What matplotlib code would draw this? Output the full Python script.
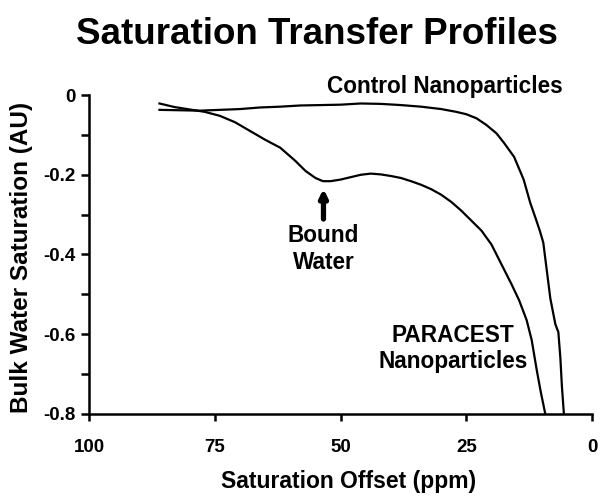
import matplotlib
matplotlib.use("Agg")
import matplotlib.pyplot as plt
from matplotlib.ticker import MultipleLocator

# Data (offset in ppm, saturation in AU)
control_x = [86, 82, 78, 74, 70, 66, 62, 58, 54, 50, 46, 42, 38, 34, 30, 27, 25, 23,
             21, 19, 17.5, 15.5, 13.6, 12.3, 11.2, 10.4, 9.7, 9.2, 8.3, 7.3, 6.7, 6.3, 6.0, 5.6]
control_y = [-0.037, -0.038, -0.039, -0.037, -0.035, -0.031, -0.029, -0.026, -0.025, -0.024,
             -0.021, -0.022, -0.025, -0.029, -0.035, -0.042, -0.048, -0.058, -0.075, -0.096,
             -0.12, -0.155, -0.212, -0.27, -0.31, -0.34, -0.37, -0.42, -0.51, -0.575, -0.595,
             -0.66, -0.73, -0.80]

paracest_x = [86, 83, 80, 77, 74, 71, 68, 65, 62, 59, 57, 55, 53.5, 52, 50, 48, 46, 44, 42,
              40, 38, 36, 34, 32, 30, 28, 26, 24, 22, 20, 18, 16, 14.5, 13, 12, 11, 10.2, 9.3]
paracest_y = [-0.021, -0.03, -0.036, -0.042, -0.052, -0.068, -0.09, -0.112, -0.132, -0.165,
              -0.19, -0.208, -0.216, -0.216, -0.212, -0.206, -0.2, -0.197, -0.199, -0.203,
              -0.208, -0.216, -0.225, -0.236, -0.25, -0.268, -0.29, -0.315, -0.34, -0.375,
              -0.425, -0.475, -0.515, -0.565, -0.615, -0.69, -0.745, -0.80]

x_ticks = [100, 75, 50, 25, 0]
y_ticks = [0, -0.2, -0.4, -0.6, -0.8]
y_tick_labels = ["0", "-0.2", "-0.4", "-0.6", "-0.8"]

plt.rcParams["font.family"] = ["Liberation Sans", "DejaVu Sans"]
plt.rcParams["font.weight"] = "bold"

fig = plt.figure(figsize=(6.06, 4.98), dpi=100)
ax = fig.add_axes([0.147, 0.169, 0.830, 0.640])

ax.plot(control_x, control_y, color="black", linewidth=1.6)
ax.plot(paracest_x, paracest_y, color="black", linewidth=1.6)

ax.set_xlim(100, 0)
ax.set_ylim(-0.8, 0)
ax.set_xticks(x_ticks)
ax.set_xticklabels([str(t) for t in x_ticks])
ax.set_yticks(y_ticks)
ax.set_yticklabels(y_tick_labels)
ax.yaxis.set_minor_locator(MultipleLocator(0.1))

for side in ("top", "right"):
    ax.spines[side].set_visible(False)
for side in ("left", "bottom"):
    ax.spines[side].set_linewidth(1.8)

ax.tick_params(axis="x", which="major", direction="out", length=5, width=1.8,
               labelsize=13.5, pad=13)
ax.tick_params(axis="y", which="both", direction="out", length=6, width=1.8,
               labelsize=13.5, pad=4)

ax.set_xlabel("Saturation Offset (ppm)", fontsize=16.5, fontweight="bold")
ax.set_ylabel("Bulk Water Saturation (AU)", fontsize=17.5, fontweight="bold")
ax.xaxis.set_label_coords(0.515, -0.175)
ax.yaxis.set_label_coords(-0.112, 0.49)

fig.text(0.523, 0.93, "Saturation Transfer Profiles", ha="center", va="center",
         fontsize=26.5, fontweight="bold")

# annotations
ax.text(29.2, 0.005, "Control Nanoparticles", ha="center", va="baseline",
        fontsize=16.3, fontweight="bold")
ax.text(27.7, -0.636, "PARACEST\nNanoparticles", ha="center", va="center",
        fontsize=16.3, fontweight="bold", linespacing=1.2)
ax.text(53.4, -0.387, "Bound\nWater", ha="center", va="center",
        fontsize=16.3, fontweight="bold", linespacing=1.2)
ax.annotate("", xy=(53.4, -0.228), xytext=(53.4, -0.318),
            arrowprops=dict(arrowstyle="-|>,head_length=0.45,head_width=0.22",
                            color="black", linewidth=3.8))

fig.savefig("out.png", dpi=100)
